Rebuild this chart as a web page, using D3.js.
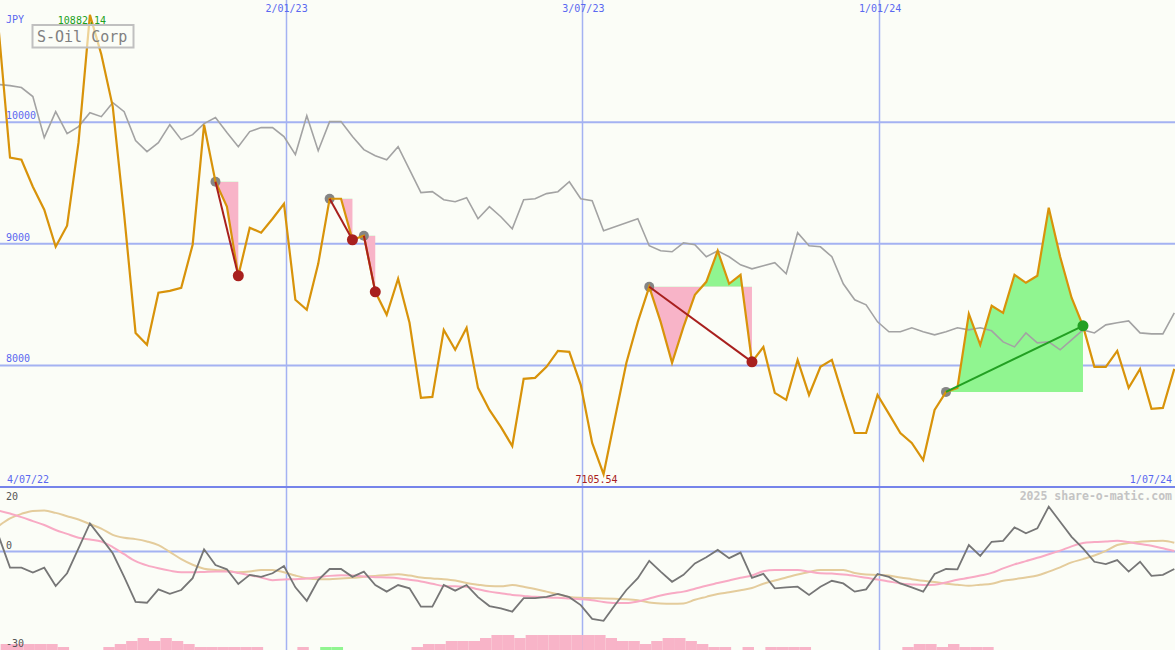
<!DOCTYPE html>
<html><head><meta charset="utf-8">
<script src="https://cdn.jsdelivr.net/npm/d3@7"></script>
<style>html,body{margin:0;padding:0;background:#fbfdf7;} svg{display:block;}</style>
</head><body><svg id="c" width="1175" height="650"></svg>
<script>
// ---------- data ----------
const startDate = "2022-07-10"; // first weekly close
const price = [10770, 9708, 9691, 9469, 9280, 8975, 9148, 9831, 10882.14, 10556,
 10128, 9239, 8267, 8169, 8597, 8613, 8638, 8992, 9979, 9510,
 9305, 8737, 9132, 9091, 9206, 9329, 8539, 8457, 8835, 9370,
 9370, 9033, 9066, 8605, 8416, 8712, 8350, 7733, 7741, 8292,
 8128, 8309, 7815, 7634, 7494, 7337, 7889, 7897, 7988, 8119,
 8111, 7840, 7362, 7105.54, 7568, 8021, 8358, 8646, 8358, 8021,
 8317, 8580, 8687, 8942, 8671, 8745, 8029, 8152, 7774, 7716,
 8045, 7757, 7988, 8045, 7741, 7444, 7444, 7757, 7601, 7444,
 7362, 7222, 7634, 7782, 7815, 8424, 8169, 8490, 8432, 8745,
 8679, 8737, 9296, 8893, 8556, 8325, 7988, 7988, 8119, 7815,
 7971, 7642, 7650, 7971];
const relative = [10309, 10300, 10284, 10210, 9872, 10086, 9905, 9963, 10078, 10045,
 10160, 10086, 9848, 9757, 9831, 9979, 9856, 9897, 9988, 10037,
 9914, 9798, 9922, 9955, 9955, 9881, 9733, 10053, 9765, 10004,
 10004, 9881, 9774, 9724, 9691, 9798, 9609, 9420, 9428, 9362,
 9346, 9379, 9206, 9305, 9222, 9123, 9362, 9370, 9412, 9428,
 9510, 9370, 9354, 9107, 9140, 9173, 9206, 8984, 8942, 8934,
 9008, 8992, 8893, 8942, 8893, 8827, 8794, 8819, 8844, 8753,
 9091, 8984, 8975, 8893, 8671, 8539, 8498, 8358, 8276, 8276,
 8309, 8276, 8251, 8276, 8309, 8292, 8309, 8284, 8193, 8152,
 8267, 8185, 8193, 8128, 8210, 8292, 8267, 8333, 8350, 8366,
 8267, 8259, 8259, 8432];
const momentum = [4.8, -4.9, -4.9, -6.4, -4.9, -10.5, -6.6, 1.0, 8.6, 4.1,
 -0.5, -7.7, -15.3, -15.6, -11.5, -12.9, -11.7, -8.1, 0.7, -4.1,
 -5.4, -9.9, -7.1, -7.7, -6.6, -4.4, -10.9, -15.0, -8.7, -5.3,
 -5.3, -7.7, -6.1, -10.2, -12.2, -10.2, -11.2, -16.8, -16.8, -10.2,
 -11.9, -10.2, -13.9, -16.6, -17.3, -18.3, -14.2, -14.2, -13.8, -12.9,
 -13.9, -16.3, -20.5, -21.1, -16.3, -11.7, -8.1, -2.8, -6.1, -9.2,
 -7.1, -3.6, -1.7, 0.5, -2.0, -0.3, -8.0, -6.8, -11.2, -10.9,
 -10.7, -13.2, -10.7, -8.9, -9.7, -12.2, -11.5, -6.8, -7.7, -9.7,
 -10.9, -12.2, -6.8, -5.3, -5.4, 2.0, -1.3, 3.0, 3.3, 7.4,
 5.6, 7.1, 13.7, 9.1, 4.5, 1.0, -3.1, -3.8, -2.6, -6.1,
 -3.1, -7.4, -7.1, -5.3];
const avgFast = [12.5, 11.6, 10.5, 9.3, 8.1, 6.6, 5.4, 4.2, 3.7, 3.1,
 1.4, -0.8, -2.9, -4.2, -5.1, -5.8, -6.3, -6.3, -6.2, -6.1,
 -6.1, -6.5, -7.2, -7.9, -8.7, -8.5, -8.4, -8.2, -7.8, -7.4,
 -7.2, -7.3, -7.6, -7.8, -7.9, -8.1, -8.6, -9.1, -9.8, -10.5,
 -10.6, -10.7, -11.5, -12.2, -12.7, -13.2, -13.5, -13.8, -14.0, -14.1,
 -14.3, -14.5, -14.8, -15.4, -15.7, -15.7, -15.2, -14.3, -13.4, -12.7,
 -12.2, -11.3, -10.4, -9.6, -8.8, -8.0, -7.3, -6.0, -5.6, -5.6,
 -5.6, -6.1, -6.6, -6.7, -7.0, -7.4, -8.0, -8.5, -9.1, -9.7,
 -10.0, -10.2, -10.1, -9.4, -8.6, -8.0, -7.3, -6.5, -5.1, -3.9,
 -2.9, -1.9, -0.8, 0.3, 1.6, 2.6, 2.9, 3.1, 3.3, 2.9,
 2.3, 1.8, 1.0, 0.2];
const avgSlow = [7.8, 10.1, 11.5, 12.4, 12.5, 11.8, 10.8, 9.8, 8.4, 7.0,
 5.1, 4.2, 3.8, 3.1, 2.0, -0.1, -2.3, -4.0, -5.2, -5.6,
 -5.8, -6.3, -6.1, -5.6, -5.6, -6.3, -7.3, -8.1, -8.4, -8.4,
 -8.2, -8.0, -7.7, -7.4, -7.1, -6.9, -7.3, -7.9, -8.2, -8.4,
 -8.8, -9.6, -10.1, -10.5, -10.6, -10.2, -10.7, -11.4, -12.2, -13.0,
 -13.8, -14.1, -14.2, -14.3, -14.4, -14.5, -14.8, -15.5, -15.8, -15.9,
 -15.8, -14.7, -13.8, -12.9, -12.4, -11.8, -11.1, -9.8, -8.8, -7.9,
 -7.0, -6.2, -5.6, -5.6, -5.6, -6.5, -7.0, -7.1, -7.3, -7.9,
 -8.4, -8.9, -9.3, -9.8, -10.1, -10.4, -10.1, -9.8, -8.9, -8.4,
 -7.9, -7.3, -6.1, -4.8, -3.3, -2.3, -1.2, 0.2, 2.0, 2.6,
 3.0, 3.2, 3.3, 2.7];
const histogram = [-2,-2,-2,-2,-2,-1,0,0,0,-1,
 -2,-3,-4,-3,-4,-3,-2,-1,-1,-1,
 -1,-1,-1,0,0,0,-1,0,1,1,
 0,0,0,0,0,0,-1,-2,-2,-3,
 -3,-3,-4,-5,-5,-4,-5,-5,-5,-5,
 -5,-5,-5,-4,-3,-3,-2,-3,-4,-4,
 -3,-2,-1,-1,0,-1,0,-1,-1,-1,
 -1,0,0,0,0,0,0,0,0,-1,
 -2,-2,-1,-2,-1,-1,-1,0,0,0,
 0,0,0,0,0,0,0,0,0,0,
 0,0,0,0];
const signalStart = [19, 29, 32, 57, 83];
const signalEnd   = [21, 31, 33, 66, 95];
const priceTicks = [8000, 9000, 10000];
const lowerTicks = [20, 0, -30];
const dateTicks = ["2023-01-02", "2023-07-03", "2024-01-01"];
const dateTickLabels = ["2/01/23", "3/07/23", "1/01/24"];
const firstLabel = "4/07/22", lastLabel = "1/07/24";
const title = "S-Oil Corp", currency = "JPY";
const highLabel = "10882.14", lowLabel = "7105.54";
const credit = "2025 share-o-matic.com";

// ---------- drawing ----------
const W = 1175, H = 650, mainBottom = 487;
const svg = d3.select("#c");
const parse = d3.timeParse("%Y-%m-%d");
const d0 = parse(startDate);
const dates = price.map((_, i) => d3.timeDay.offset(d0, 7 * i));
const x = d3.scaleTime().domain([dates[0], dates[dates.length - 1]]).range([-1.4, 1174.3]);
const y = d3.scaleLinear().domain([7000, 11000]).range([487, 0.5]);
const y2 = d3.scaleLinear().domain([-30, 20]).range([650, 486]);
const yh = d3.scaleLinear().domain([0, 5]).range([650, 635]);
const font = "'DejaVu Sans Mono', monospace";
const blue = "#5a68f0", gridC = "#a4b2f2";

svg.append("rect").attr("width", W).attr("height", H).attr("fill", "#fbfdf7");
const defs = svg.append("defs");
defs.append("clipPath").attr("id", "mainClip").append("rect").attr("x", 0).attr("y", 0).attr("width", W).attr("height", mainBottom);
defs.append("clipPath").attr("id", "lowClip").append("rect").attr("x", 0).attr("y", mainBottom).attr("width", W).attr("height", H - mainBottom);

// horizontal grid
svg.selectAll(".hg").data(priceTicks).join("line")
  .attr("x1", 0).attr("x2", W).attr("y1", d => y(d)).attr("y2", d => y(d))
  .attr("stroke", gridC).attr("stroke-width", 2);
svg.append("line").attr("x1", 0).attr("x2", W).attr("y1", y2(0)).attr("y2", y2(0))
  .attr("stroke", gridC).attr("stroke-width", 2);
// vertical grid
svg.selectAll(".vg").data(dateTicks).join("line")
  .attr("x1", d => Math.round(x(parse(d))) + 0.5).attr("x2", d => Math.round(x(parse(d))) + 0.5)
  .attr("y1", 0).attr("y2", H).attr("stroke", gridC).attr("stroke-width", 1.5);

// histogram bars
const dx = x(dates[1]) - x(dates[0]);
svg.append("g").selectAll("rect").data(histogram.map((v, i) => ({v, i})).filter(d => d.v !== 0)).join("rect")
  .attr("x", d => x(dates[d.i]) + 2).attr("width", dx)
  .attr("y", d => yh(Math.abs(d.v))).attr("height", d => yh(0) - yh(Math.abs(d.v)))
  .attr("fill", d => d.v < 0 ? "#f8b4c8" : "#90f590");

// signal fills
const gMain = svg.append("g").attr("clip-path", "url(#mainClip)");
signalStart.forEach((s, k) => {
  const e = signalEnd[k], level = price[s];
  const idx = d3.range(s, e + 1);
  const area = d3.area().x(i => x(dates[i])).y0(y(level)).y1(i => y(price[i]));
  const cu = "cu" + k, cd = "cd" + k;
  defs.append("clipPath").attr("id", cu).append("rect").attr("x", 0).attr("y", 0).attr("width", W).attr("height", y(level));
  defs.append("clipPath").attr("id", cd).append("rect").attr("x", 0).attr("y", y(level)).attr("width", W).attr("height", mainBottom - y(level));
  gMain.append("path").datum(idx).attr("d", area).attr("fill", "#90f590").attr("clip-path", `url(#${cu})`);
  gMain.append("path").datum(idx).attr("d", area).attr("fill", "#f8b4c8").attr("clip-path", `url(#${cd})`);
});

// start dots (under lines)
signalStart.forEach(s => {
  gMain.append("circle").attr("cx", x(dates[s])).attr("cy", y(price[s])).attr("r", 5).attr("fill", "#858585");
});

// comparison line
const lineMain = d3.line().x((d, i) => x(dates[i])).y(d => y(d));
gMain.append("path").datum(relative).attr("d", lineMain).attr("fill", "none").attr("stroke", "#a3a3a3").attr("stroke-width", 1.6);
// price line
gMain.append("path").datum(price).attr("d", lineMain).attr("fill", "none").attr("stroke", "#d8930a").attr("stroke-width", 2.2).attr("stroke-linejoin", "miter");

// signal lines and end dots
signalStart.forEach((s, k) => {
  const e = signalEnd[k];
  const col = price[e] < price[s] ? "#a8201e" : "#22a022";
  gMain.append("line").attr("x1", x(dates[s])).attr("y1", y(price[s])).attr("x2", x(dates[e])).attr("y2", y(price[e]))
    .attr("stroke", col).attr("stroke-width", 2);
  gMain.append("circle").attr("cx", x(dates[e])).attr("cy", y(price[e])).attr("r", 5.5).attr("fill", col);
});

// separator
svg.append("line").attr("x1", 0).attr("x2", W).attr("y1", mainBottom).attr("y2", mainBottom).attr("stroke", "#7684ea").attr("stroke-width", 2);

// lower lines
const gLow = svg.append("g").attr("clip-path", "url(#lowClip)");
const lineLow = d3.line().x((d, i) => x(dates[i])).y(d => y2(d)).curve(d3.curveMonotoneX);
gLow.append("path").datum(avgSlow).attr("d", lineLow).attr("fill", "none").attr("stroke", "#e4cc9c").attr("stroke-width", 2);
gLow.append("path").datum(avgFast).attr("d", lineLow).attr("fill", "none").attr("stroke", "#f8aac4").attr("stroke-width", 2);
gLow.append("path").datum(momentum).attr("d", d3.line().x((d, i) => x(dates[i])).y(d => y2(d)))
  .attr("fill", "none").attr("stroke", "#767676").attr("stroke-width", 1.8);

// texts
const txt = (s, tx, ty, col, size, anchor, weight) => svg.append("text").text(s).attr("x", tx).attr("y", ty)
  .attr("fill", col).attr("font-family", font).attr("font-size", size).attr("text-anchor", anchor || "start")
  .attr("font-weight", weight || "normal");

txt(currency, 6, 23, blue, 10);
priceTicks.forEach(t => txt(String(t), 6, y(t) - 3, blue, 10));
dateTicks.forEach((d, k) => txt(dateTickLabels[k], x(parse(d)) + 1, 12, blue, 10, "middle"));
txt(firstLabel, 7, 483, blue, 10);
txt(lastLabel, 1172, 483, blue, 10, "end");
const hi = d3.maxIndex(price), lo = d3.minIndex(price);
txt(highLabel, x(dates[hi]) - 8, 24, "#20a020", 10, "middle");
txt(lowLabel, x(dates[lo]) - 7, 483, "#a82020", 10, "middle");
txt(credit, 1172, 500, "#c4c4c4", 11.5, "end", "bold");
lowerTicks.forEach(t => txt(String(t), 6, t === 20 ? 500 : y2(t) - 3, "#555", 10));

// title box
svg.append("rect").attr("x", 32.5).attr("y", 25).attr("width", 101).attr("height", 22.5)
  .attr("fill", "#fbfdf7").attr("fill-opacity", 0.6).attr("stroke", "#c0c0c0").attr("stroke-width", 2);
txt(title, 37, 42, "#808080", 15);
</script></body></html>
